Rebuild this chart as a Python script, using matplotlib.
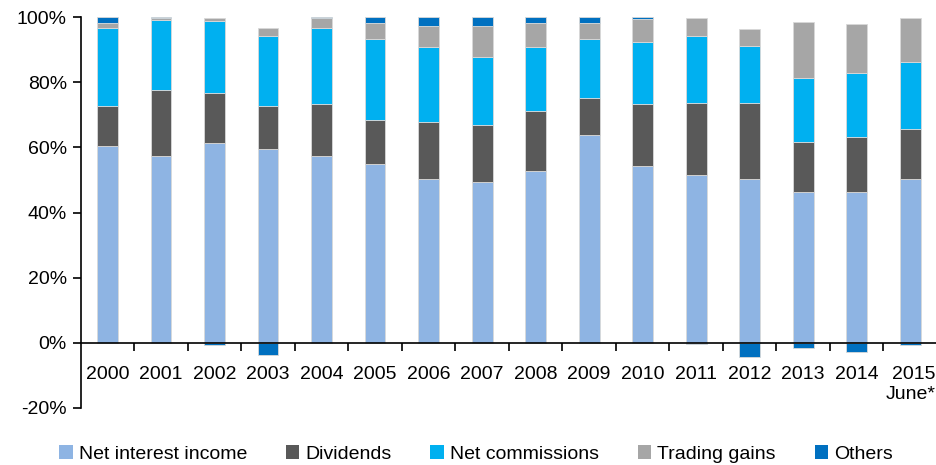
import matplotlib
matplotlib.use("Agg")
import matplotlib.pyplot as plt
from matplotlib.patches import Patch
import numpy as np

plt.rcParams['font.family'] = ['Liberation Sans', 'DejaVu Sans']

years = ["2000", "2001", "2002", "2003", "2004", "2005", "2006", "2007",
         "2008", "2009", "2010", "2011", "2012", "2013", "2014", "2015\nJune*"]
net_interest = [60.3, 57.3, 61.4, 59.4, 57.3, 54.9, 50.4, 49.3,
                52.9, 63.9, 54.4, 51.4, 50.4, 46.4, 46.4, 50.4]
dividends = [12.5, 20.5, 15.3, 13.4, 16.0, 13.4, 17.4, 17.6,
             18.4, 11.4, 18.9, 22.4, 23.4, 15.4, 16.9, 15.4]
net_commissions = [23.9, 21.4, 22.1, 21.4, 23.4, 25.0, 23.0, 20.9,
                   19.5, 18.0, 19.0, 20.4, 17.5, 19.5, 19.6, 20.4]
trading_gains = [1.5, 0.5, 1.0, 2.6, 3.2, 4.9, 6.5, 9.5,
                 7.4, 4.9, 7.2, 5.6, 5.0, 17.1, 14.9, 13.7]
others = [1.8, 0.3, -0.8, -3.7, 0.3, 1.8, 2.7, 2.7,
          1.8, 1.8, 0.5, -0.5, -4.2, -1.7, -2.8, -0.7]

series = [("Net interest income", net_interest, "#8EB4E3"),
          ("Dividends", dividends, "#595959"),
          ("Net commissions", net_commissions, "#00B0F0"),
          ("Trading gains", trading_gains, "#A6A6A6"),
          ("Others", others, "#0070C0")]

fig = plt.figure(figsize=(9.37, 4.65), dpi=100)
ax = fig.add_axes([0.0861, 0.1226, 0.9139, 0.8404])

x = np.arange(len(years))
pos_bottom = np.zeros(len(years))
neg_bottom = np.zeros(len(years))
handles = []
for name, vals, color in series:
    v = np.array(vals, dtype=float)
    bottom = np.where(v >= 0, pos_bottom, neg_bottom)
    ax.bar(x, v, width=0.39, bottom=bottom, color=color,
           edgecolor="#D9D9D9", linewidth=0.6, zorder=2)
    pos_bottom = pos_bottom + np.where(v >= 0, v, 0)
    neg_bottom = neg_bottom + np.where(v < 0, v, 0)
    handles.append(Patch(facecolor=color, edgecolor='none', label=name))

ax.set_xlim(-0.5, len(years) - 0.5)
ax.set_ylim(-20, 100)
ax.set_yticks([-20, 0, 20, 40, 60, 80, 100])
ax.set_yticklabels([f"{t}%" for t in [-20, 0, 20, 40, 60, 80, 100]], fontsize=14)
ax.tick_params(axis='y', direction='out', length=6, width=1.2, pad=4)

ax.spines['top'].set_visible(False)
ax.spines['right'].set_visible(False)
ax.spines['bottom'].set_position(('data', 0))
ax.spines['left'].set_linewidth(1.2)
ax.spines['bottom'].set_linewidth(1.2)

ax.set_xticks(x)
ax.set_xticklabels(years, fontsize=14, multialignment='right')
ax.tick_params(axis='x', which='major', length=0, pad=17)
ax.set_xticks(np.arange(0.5, len(years) - 0.5, 1.0), minor=True)
ax.tick_params(axis='x', which='minor', direction='out', length=6, width=1.2)

fig.legend(handles=handles, loc='center', bbox_to_anchor=(0.508, 0.024),
           ncol=5, frameon=False, fontsize=14, handlelength=0.7,
           handleheight=0.7, handletextpad=0.3, columnspacing=2.0)

fig.savefig("out.png", dpi=100)
